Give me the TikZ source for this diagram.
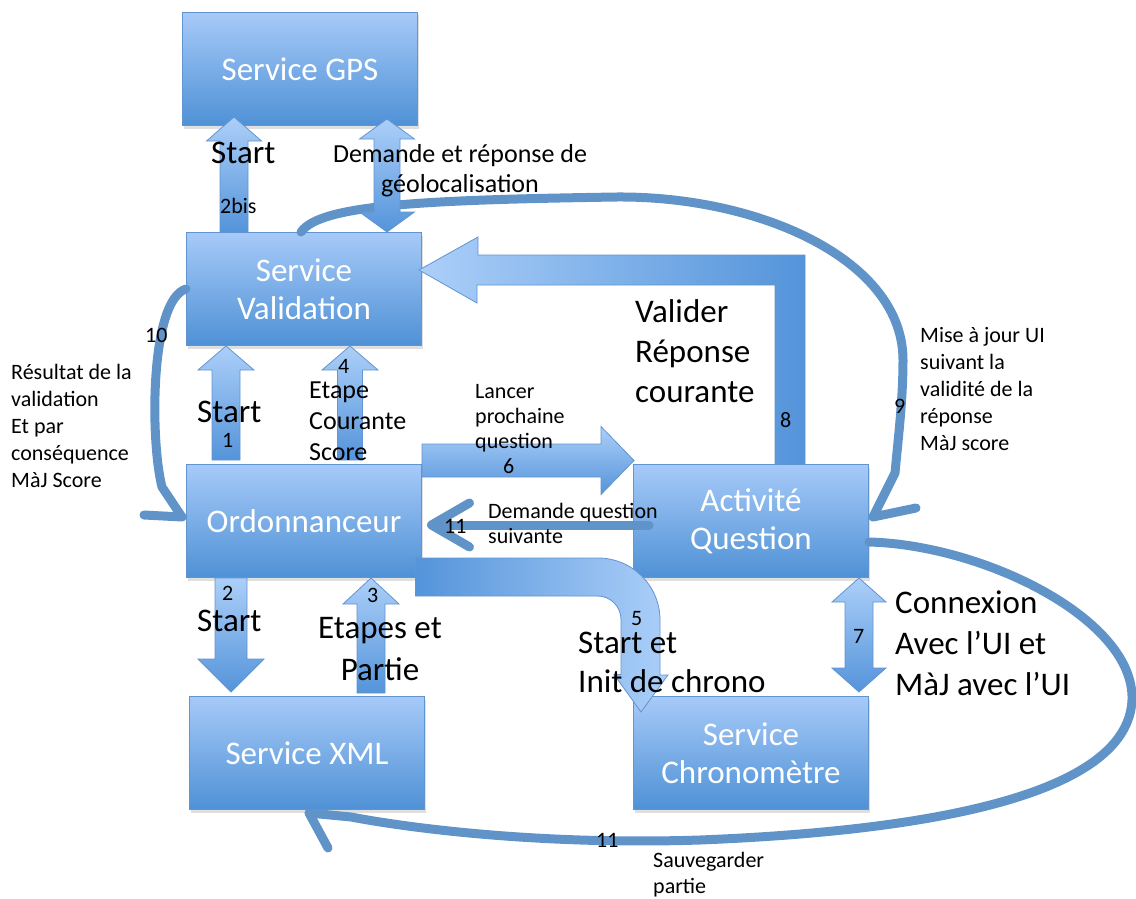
\documentclass[tikz,border=0pt]{standalone}
\usepackage{fontspec}
\setmainfont{Carlito}
\usepackage{tikz}
\usetikzlibrary{calc,arrows.meta,shadows}

\definecolor{boxtop}{RGB}{166,202,248}
\definecolor{boxbot}{RGB}{79,145,214}
\definecolor{boxline}{RGB}{98,148,208}
\definecolor{arrtop}{RGB}{172,207,249}
\definecolor{arrbot}{RGB}{84,148,218}
\definecolor{connblue}{RGB}{96,148,200}

\tikzset{
  box/.style={rectangle, draw=boxline, line width=1pt, top color=boxtop, bottom color=boxbot,
    minimum width=235pt, minimum height=113pt, inner sep=0pt, text=white, align=center,
    font=\fontsize{33}{38}\selectfont,
    drop shadow={shadow xshift=1pt, shadow yshift=-3pt, opacity=0.25}},
  blockarr/.style={draw=boxline, line width=0.8pt, top color=arrtop, bottom color=arrbot},
  conn/.style={draw=connblue, line width=9pt, line cap=round, line join=round},
  big/.style={inner sep=0pt, anchor=base west, align=left, font=\fontsize{33}{40}\selectfont},
  mid/.style={inner sep=0pt, anchor=base west, align=left, font=\fontsize{26}{30}\selectfont},
  small/.style={inner sep=0pt, anchor=base west, align=left, font=\fontsize{22}{27}\selectfont},
}

% block arrow: [options]{from}{to}{half shaft}{half head}{head length}
\newcommand{\blockarrow}[6][]{%
  \coordinate (ba-a) at (#2);
  \coordinate (ba-b) at (#3);
  \coordinate (ba-c) at ($(ba-b)!#6!(ba-a)$);
  \shadedraw[blockarr,#1] ($(ba-a)!#4!-90:(ba-b)$) -- ($(ba-c)!#4!-90:(ba-b)$)
    -- ($(ba-c)!#5!-90:(ba-b)$) -- (ba-b) -- ($(ba-c)!#5!90:(ba-b)$)
    -- ($(ba-c)!#4!90:(ba-b)$) -- ($(ba-a)!#4!90:(ba-b)$) -- cycle;
}
% same with a head at both ends
\newcommand{\dblockarrow}[6][]{%
  \coordinate (ba-a) at (#2);
  \coordinate (ba-b) at (#3);
  \coordinate (ba-c) at ($(ba-b)!#6!(ba-a)$);
  \coordinate (ba-d) at ($(ba-a)!#6!(ba-b)$);
  \shadedraw[blockarr,#1] (ba-a) -- ($(ba-d)!#5!-90:(ba-b)$) -- ($(ba-d)!#4!-90:(ba-b)$)
    -- ($(ba-c)!#4!-90:(ba-b)$) -- ($(ba-c)!#5!-90:(ba-b)$) -- (ba-b)
    -- ($(ba-c)!#5!90:(ba-b)$) -- ($(ba-c)!#4!90:(ba-b)$) -- ($(ba-d)!#4!90:(ba-b)$)
    -- ($(ba-d)!#5!90:(ba-b)$) -- cycle;
}

\begin{document}
\begin{tikzpicture}[x=1pt,y=1pt]
\useasboundingbox (0,0) rectangle (1136,-899);

% services
\node[box] (GPS) at (300,-69) {Service GPS};
\node[box] (Val) at (304,-289) {Service\\Validation};
\node[box] (Ord) at (304,-521) {Ordonnanceur};
\node[box] (XML) at (307,-753) {Service XML};
\node[box] (Act) at (751,-521) {Activité\\Question};
\node[box] (Chr) at (751,-753) {Service\\Chronomètre};

% curved connectors
\draw[conn] ($(Val.north)+(-3,0)$) .. controls (320,-205) and (420,-200) .. (617,-197)
  .. controls (760,-196) and (903,-260) .. (903,-360)
  .. controls (903,-400) and (898,-440) .. (895,-473) -- ($(Act.east)+(4,4)$) -- ++(43,9);
\draw[conn] (Val.west) .. controls (150,-300) and (150,-440) .. (162,-487)
  -- ($(Ord.west)+(-4,4)$) -- ++(-38,2);
\draw[conn] ($(Act.east)+(0,-21)$) .. controls (985,-545) and (1135,-620) .. (1132,-700)
  .. controls (1128,-790) and (950,-830) .. (700,-840)
  .. controls (550,-845) and (420,-830) .. (351,-817) -- ($(XML.south)+(2,-3)$) -- ++(19,-35);
\draw[conn, -{Straight Barb[length=38pt,width=44pt,round]}] ($(Act.west)+(16,-4)$) -- ($(Ord.east)+(5,-4)$);

% block arrows
\blockarrow{$(Val.north)+(-70,0)$}{$(GPS.south)+(-66,9)$}{14pt}{27.5pt}{24pt}
\dblockarrow{$(Val.north)+(83,0)$}{$(GPS.south)+(87,7)$}{13pt}{27.5pt}{20pt}
\blockarrow{$(Ord.north)+(-78,4)$}{$(Val.south)+(-78,0)$}{14pt}{28pt}{24pt}
\blockarrow{$(Ord.north)+(46,4)$}{$(Val.south)+(46,0)$}{12.5pt}{28pt}{24pt}
\blockarrow{$(Ord.south)+(-73,0)$}{$(XML.north)+(-76,4)$}{16pt}{33pt}{33pt}
\blockarrow{$(XML.north)+(64,3)$}{$(Ord.south)+(67,0)$}{14pt}{28pt}{26pt}
\blockarrow{$(Ord.east)+(0,60.5)$}{$(Act.west)+(1,60.5)$}{16.5pt}{34pt}{33pt}
\dblockarrow{$(Act.south)+(108,0)$}{$(Chr.north)+(108,4)$}{14pt}{27pt}{24pt}
\shadedraw[blockarr, left color=arrtop, right color=arrbot] ($(Act.north)+(24,0)$) |- ++(-298,179)
  -- ++(0,-18) -- ($(Val.east)+(-3,19)$) -- ++(59,33) -- ++(0,-18) -| ($(Act.north)+(54,0)$) -- cycle;
\shadedraw[blockarr, left color=arrbot, right color=arrtop] ($(Ord.east)+(-6,-37)$) -- ++(182,0)
  arc[start angle=90, end angle=0, radius=62] -- ++(0,-55) -- ++(8,0)
  -- ($(Chr.north)+(-110,-16)$) -- ++(-27,37.5) -- ++(7,0) -- ++(0,55)
  arc[start angle=0, end angle=90, radius=23.5] -- ++(-182,0) -- cycle;

% labels
\node[big] (T2bis) at (211,-163) {Start};
\node[small] (N2bis) at (220,-213) {2bis};
\node[mid, anchor=base, align=center] (TGeo) at (460,-192) {Demande et réponse de\\géolocalisation};
\node[small] (N10) at (145,-342) {10};
\node[small] (TRes) at (11,-487) {Résultat de la\\validation\\Et par\\conséquence\\MàJ Score};
\node[big] (T1) at (197,-422) {Start};
\node[small] (N1) at (222,-447) {1};
\node[small] (N4) at (338,-373) {4};
\node[mid, font=\fontsize{26}{31}\selectfont] (TEtape) at (309,-460) {Etape\\Courante\\Score};
\node[small, font=\fontsize{22}{25}\selectfont] (TLancer) at (475,-448) {Lancer\\prochaine\\question};
\node[small] (N6) at (503,-473) {6};
\node[big] (TValider) at (635,-402) {Valider\\Réponse\\courante};
\node[small] (N8) at (780,-427) {8};
\node[small] (N9) at (894,-413) {9};
\node[small] (TMise) at (920,-450) {Mise à jour UI\\suivant la\\validité de la\\réponse\\MàJ score};
\node[small] (N11a) at (444,-533) {11};
\node[small, font=\fontsize{22}{25}\selectfont] (TDemande) at (488,-543) {Demande question\\suivante};
\node[small] (N2) at (222,-600) {2};
\node[big] (T2) at (197,-631) {Start};
\node[small] (N3) at (367,-602) {3};
\node[big, anchor=base, align=center, font=\fontsize{33}{42}\selectfont] (TEtapes) at (380,-680) {Etapes et\\Partie};
\node[small] (N5) at (631,-625) {5};
\node[big, font=\fontsize{33}{39}\selectfont] (TStart5) at (578,-692) {Start et\\Init de chrono};
\node[small] (N7) at (853,-643) {7};
\node[big, font=\fontsize{33}{41}\selectfont] (TConn) at (895,-695) {Connexion\\Avec l’UI et\\MàJ avec l’UI};
\node[small] (N11b) at (596,-847) {11};
\node[small, font=\fontsize{22}{26}\selectfont] (TSauv) at (653,-893) {Sauvegarder\\partie};
\end{tikzpicture}
\end{document}
